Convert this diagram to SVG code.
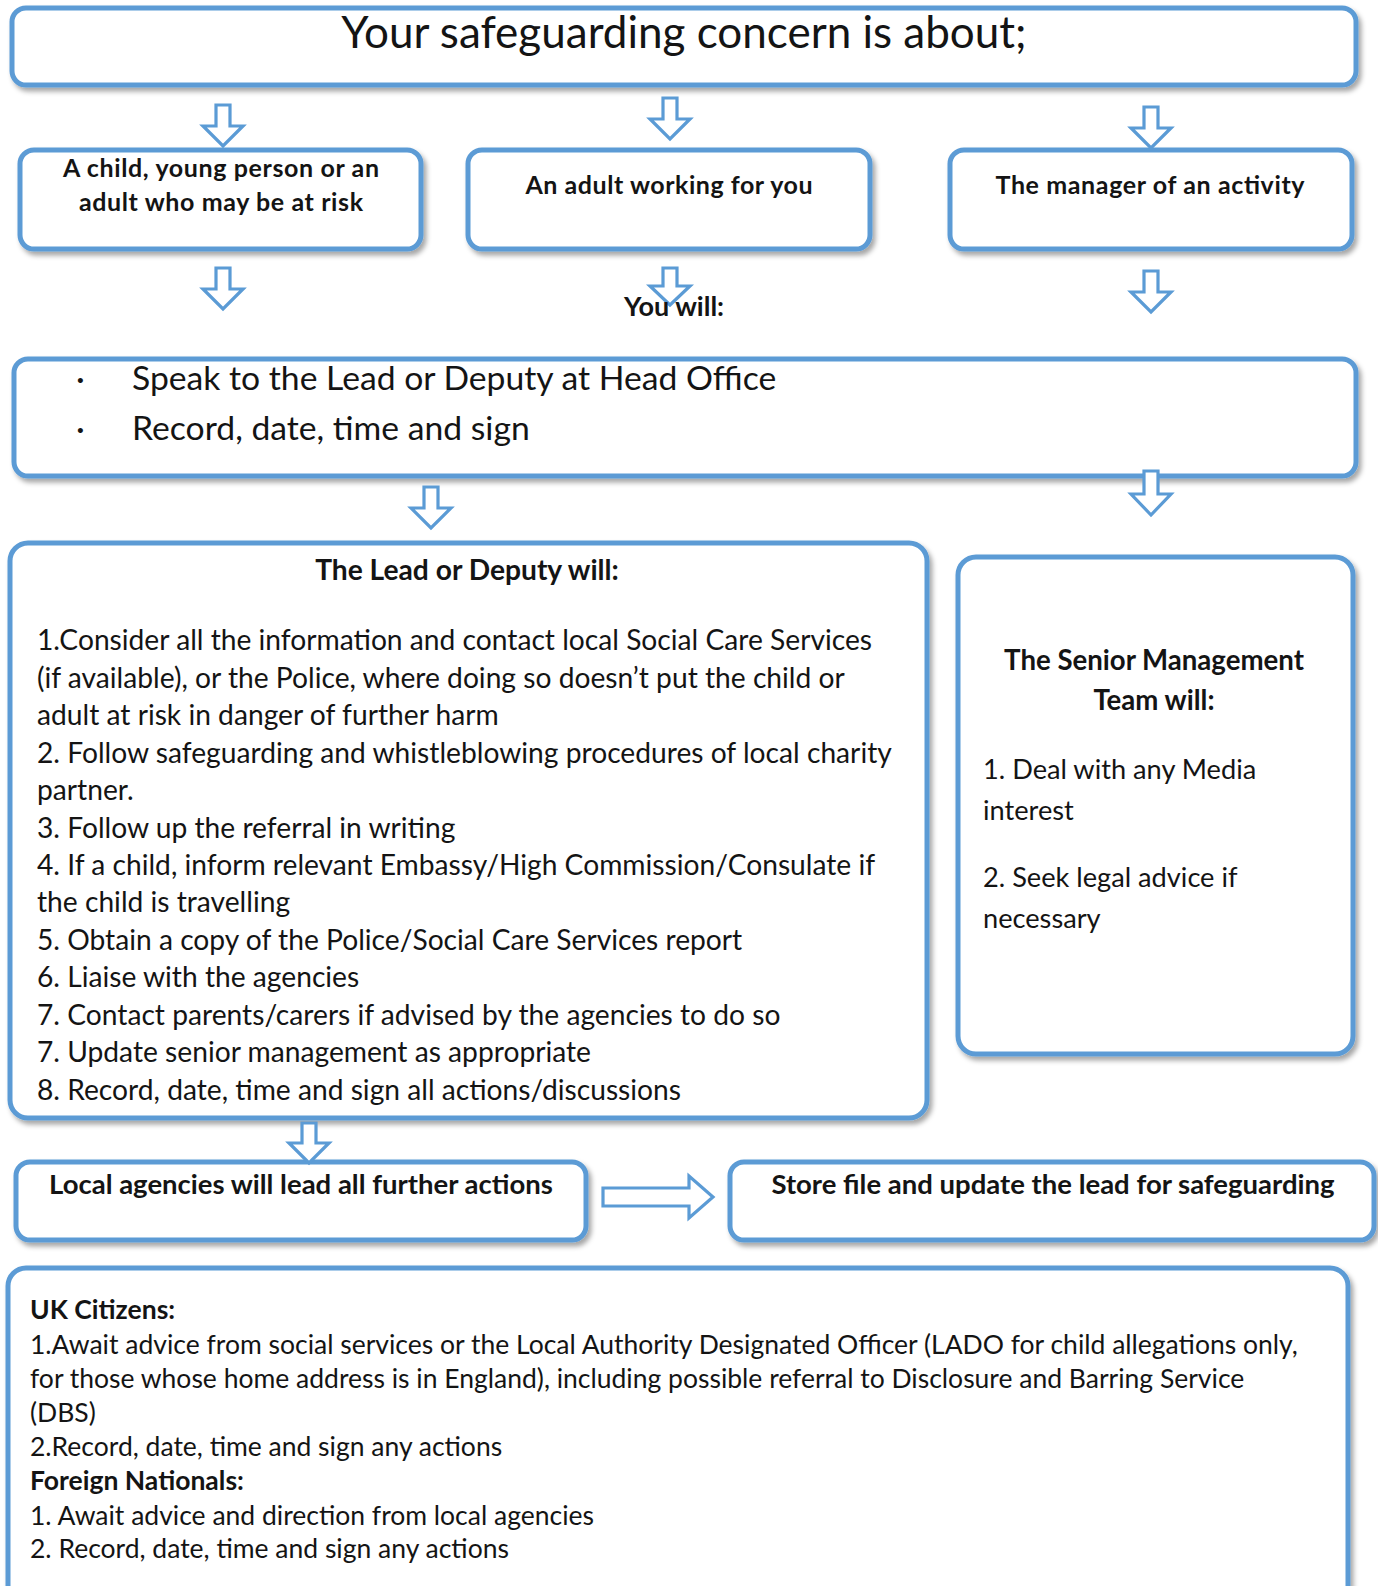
<svg xmlns="http://www.w3.org/2000/svg" width="1378" height="1586" viewBox="0 0 1378 1586">
<style>
.box{fill:#fff;stroke:#5B9BD5;stroke-width:5;filter:url(#sh)}
.arr{fill:#fff;stroke:#5B9BD5;stroke-width:3.2;stroke-linejoin:miter}
text{font-family:Lato,"Open Sans","Noto Sans",sans-serif;fill:#141414}
.b{font-weight:bold}
.c{text-anchor:middle}
.title{font-size:44px}
.sm{font-size:25px;font-weight:bold}
.big{font-size:33.7px}
.body{font-size:28.2px}
.smt{font-size:27.2px}
.smth{font-size:27.6px;font-weight:bold}
.bar{font-size:27.5px;font-weight:bold}
.low{font-size:26.5px}
</style>
<defs>
<filter id="sh" x="-5%" y="-10%" width="110%" height="125%">
<feDropShadow dx="3" dy="4" stdDeviation="2.5" flood-color="#000" flood-opacity="0.35"/>
</filter>
</defs>
<g id="top"><rect class="box" x="12" y="8" width="1344" height="77" rx="14"/>
<text class="title c" x="684" y="48">Your safeguarding concern is about;</text></g>
<g id="childBox"><rect class="box" x="20" y="150" width="401" height="99" rx="14"/>
<text class="sm c" x="221" y="177" textLength="316">A child, young person or an</text>
<text class="sm c" x="221" y="211" textLength="284">adult who may be at risk</text></g>
<g id="adultBox"><rect class="box" x="468" y="150" width="402" height="99" rx="14"/>
<text class="sm c" x="669" y="194" textLength="287">An adult working for you</text></g>
<g id="managerBox"><rect class="box" x="950" y="150" width="402" height="99" rx="14"/>
<text class="sm c" x="1150" y="194" textLength="309">The manager of an activity</text></g>
<g id="youWill"><rect class="box" x="14" y="359" width="1342" height="117" rx="14"/>
<text class="big" x="76" y="390">·</text><text class="big" x="132" y="390">Speak to the Lead or Deputy at Head Office</text>
<text class="big" x="76" y="440">·</text><text class="big" x="132" y="440">Record, date, time and sign</text></g>
<g id="leadBox"><rect class="box" x="10" y="543" width="917" height="575" rx="18"/>
<text class="body b c" x="467" y="580">The Lead or Deputy will:</text>
<text class="body" x="37" y="650">1.Consider all the information and contact local Social Care Services</text>
<text class="body" x="37" y="688">(if available), or the Police, where doing so doesn’t put the child or</text>
<text class="body" x="37" y="725">adult at risk in danger of further harm</text>
<text class="body" x="37" y="763">2. Follow safeguarding and whistleblowing procedures of local charity</text>
<text class="body" x="37" y="800">partner.</text>
<text class="body" x="37" y="838">3. Follow up the referral in writing</text>
<text class="body" x="37" y="875">4. If a child, inform relevant Embassy/High Commission/Consulate if</text>
<text class="body" x="37" y="912">the child is travelling</text>
<text class="body" x="37" y="950">5. Obtain a copy of the Police/Social Care Services report</text>
<text class="body" x="37" y="987">6. Liaise with the agencies</text>
<text class="body" x="37" y="1025">7. Contact parents/carers if advised by the agencies to do so</text>
<text class="body" x="37" y="1062">7. Update senior management as appropriate</text>
<text class="body" x="37" y="1100">8. Record, date, time and sign all actions/discussions</text></g>
<g id="smtBox"><rect class="box" x="958" y="557" width="395" height="497" rx="18"/>
<text class="smth c" x="1154" y="670">The Senior Management</text>
<text class="smth c" x="1154" y="710">Team will:</text>
<text class="smt" x="983" y="779">1. Deal with any Media</text>
<text class="smt" x="983" y="820">interest</text>
<text class="smt" x="983" y="887">2. Seek legal advice if</text>
<text class="smt" x="983" y="928">necessary</text></g>
<g id="localBox"><rect class="box" x="16" y="1162" width="570" height="78" rx="14"/>
<text class="bar c" x="301" y="1194">Local agencies will lead all further actions</text></g>
<g id="storeBox"><rect class="box" x="730" y="1162" width="644" height="78" rx="14"/>
<text class="bar c" x="1053" y="1194">Store file and update the lead for safeguarding</text></g>
<g id="bottomBox"><rect class="box" x="8" y="1268" width="1340" height="340" rx="18"/>
<text class="low b" x="30" y="1319">UK Citizens:</text>
<text class="low" x="30" y="1354">1.Await advice from social services or the Local Authority Designated Officer (LADO for child allegations only,</text>
<text class="low" x="30" y="1388">for those whose home address is in England), including possible referral to Disclosure and Barring Service</text>
<text class="low" x="30" y="1422">(DBS)</text>
<text class="low" x="30" y="1456">2.Record, date, time and sign any actions</text>
<text class="low b" x="30" y="1490">Foreign Nationals:</text>
<text class="low" x="30" y="1525">1. Await advice and direction from local agencies</text>
<text class="low" x="30" y="1558">2. Record, date, time and sign any actions</text></g>
<g id="connectors">
<path class="arr" d="M216,105 h14 v21 h13 l-20,20 l-20,-20 h13 z"/>
<path class="arr" d="M663,98 h14 v21 h13 l-20,20 l-20,-20 h13 z"/>
<path class="arr" d="M1144,107 h14 v21 h13 l-20,20 l-20,-20 h13 z"/>
<path class="arr" d="M216,268 h14 v21 h13 l-20,20 l-20,-20 h13 z"/>
<path class="arr" d="M663,268 h14 v18 h13 l-20,19 l-20,-19 h13 z"/>
<path class="arr" d="M1144,271 h14 v21 h13 l-20,20 l-20,-20 h13 z"/>
<path class="arr" d="M424,487 h14 v21 h13 l-20,20 l-20,-20 h13 z"/>
<path class="arr" d="M1144,471 h14 v23 h13 l-20,21 l-20,-21 h13 z"/>
<path class="arr" d="M302,1123 h14 v20 h13 l-20,20 l-20,-20 h13 z"/>
<path class="arr" d="M603,1188 h86 v-12 l24,21 l-24,21 v-12 h-86 z"/>
</g>
<text class="b c" x="674" y="316" style="font-size:27px">You will:</text>
</svg>
